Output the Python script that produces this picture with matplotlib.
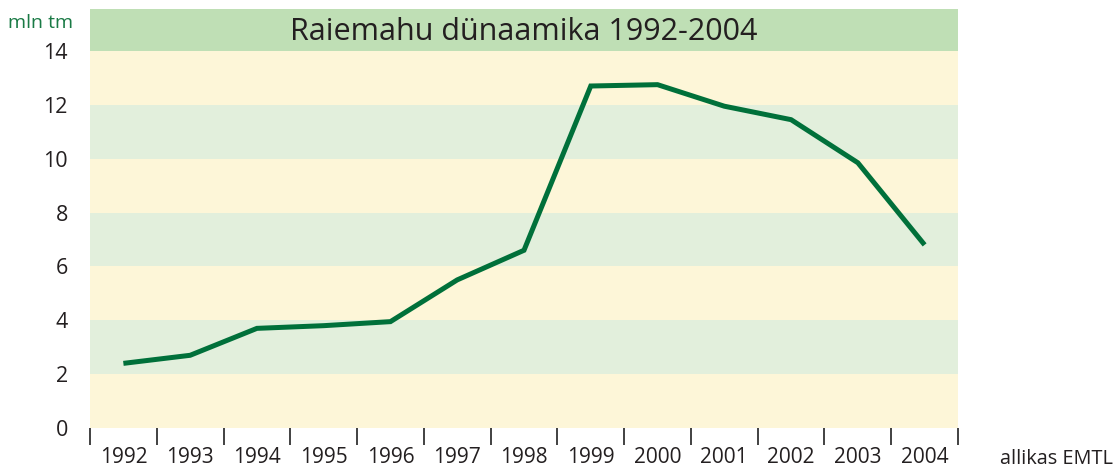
import matplotlib
matplotlib.use("Agg")
import matplotlib.pyplot as plt
import numpy as np

years = ["1992", "1993", "1994", "1995", "1996", "1997", "1998",
         "1999", "2000", "2001", "2002", "2003", "2004"]
values = [2.4, 2.7, 3.7, 3.8, 3.95, 5.5, 6.6, 12.7, 12.75, 11.95, 11.45, 9.85, 6.8]
yticks = [0, 2, 4, 6, 8, 10, 12, 14]
title = "Raiemahu dünaamika 1992-2004"
unit = "mln tm"
source = "allikas EMTL"

plt.rcParams['font.family'] = ['Open Sans', 'DejaVu Sans']

W, H = 1120, 471
fig = plt.figure(figsize=(W / 100, H / 100), dpi=100)

left, right, top, bottom = 90, 958, 51, 428
ax = fig.add_axes([left / W, 1 - bottom / H, (right - left) / W, (bottom - top) / H])

cream = "#fdf6d8"
lgreen = "#e2efdc"
for i in range(len(yticks) - 1):
    ax.axhspan(yticks[i], yticks[i + 1], color=cream if i % 2 == 0 else lgreen, lw=0, zorder=0)

x = np.arange(len(years))
ax.plot(x, values, color="#00703a", lw=3.6, solid_joinstyle="miter", solid_capstyle="butt", zorder=3)

ax.set_xlim(-0.5, len(years) - 0.5)
ax.set_ylim(0, 14)
for s in ax.spines.values():
    s.set_visible(False)

ax.set_xticks(np.arange(-0.5, len(years), 1.0), minor=False)
ax.set_xticklabels([])
ax.tick_params(axis="x", which="major", length=12, width=1.3, color="#333333", direction="out")
ax.set_xticks(x, minor=True)
ax.set_xticklabels(years, minor=True)
ax.tick_params(axis="x", which="minor", length=0, pad=14, labelsize=15, labelcolor="#231f20")

ax.set_yticks(yticks)
ax.set_yticklabels([str(v) for v in yticks])
ax.tick_params(axis="y", length=0, pad=16, labelsize=15.5, labelcolor="#231f20")

# title band
band = fig.add_axes([left / W, 1 - top / H, (right - left) / W, (top - 9) / H])
band.set_facecolor("#bfdfb5")
band.set_xticks([]); band.set_yticks([])
for s in band.spines.values():
    s.set_visible(False)
band.text(0.5, 0.45, title, ha="center", va="center", fontsize=22, color="#231f20",
          transform=band.transAxes)

fig.text(73 / W, 1 - 23 / H, unit, ha="right", va="center", fontsize=14, color="#1a7a45")
fig.text(1113 / W, 1 - 459 / H, source, ha="right", va="center", fontsize=14.3, color="#231f20")

fig.savefig("out.png", dpi=100, facecolor="white")
